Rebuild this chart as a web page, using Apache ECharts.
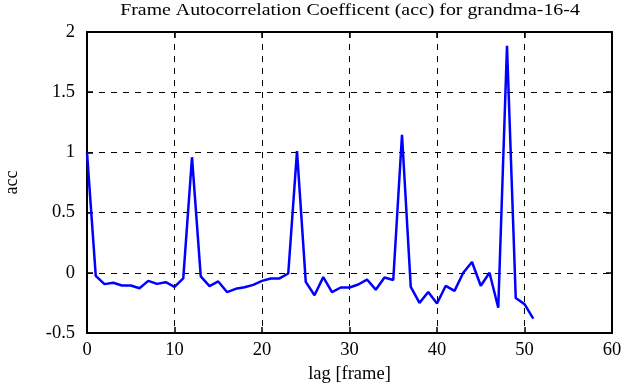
<!DOCTYPE html>
<html>
<head>
<meta charset="utf-8">
<script src="https://cdn.jsdelivr.net/npm/echarts@6/dist/echarts.min.js"></script>
<style>html,body{margin:0;padding:0;background:#fff}#c{width:635px;height:387px}</style>
</head>
<body>
<div id="c"></div>
<script>
var lags = [0,1,2,3,4,5,6,7,8,9,10,11,12,13,14,15,16,17,18,19,20,21,22,23,24,25,26,27,28,29,30,31,32,33,34,35,36,37,38,39,40,41,42,43,44,45,46,47,48,49,50,51];
var acc = [1.0,-0.025,-0.094,-0.083,-0.105,-0.105,-0.128,-0.067,-0.092,-0.078,-0.117,-0.047,0.96,-0.03,-0.11,-0.072,-0.16,-0.133,-0.12,-0.10,
           -0.067,-0.047,-0.047,-0.006,1.01,-0.075,-0.186,-0.036,-0.16,-0.122,-0.122,-0.097,-0.056,-0.14,-0.039,-0.06,1.147,-0.117,-0.25,-0.16,
           -0.255,-0.108,-0.15,0.0,0.09,-0.108,0.0,-0.29,1.886,-0.21,-0.26,-0.38];
var titleText = 'Frame Autocorrelation Coefficent (acc) for grandma-16-4';
var xName = 'lag [frame]';
var yName = 'acc';

var font = 'Liberation Serif';
var chart = echarts.init(document.getElementById('c'));
var axisLine = {show: true, onZero: false, lineStyle: {color: '#000', width: 2}};
var tick = {show: true, inside: true, length: 6, lineStyle: {color: '#000', width: 1.5}};
var split = {show: true, lineStyle: {color: '#000', type: [6, 6], width: 1}};
chart.setOption({
  backgroundColor: '#fff',
  animation: false,
  graphic: [{type: 'text', x: 350, y: 11, scaleX: 1.24, scaleY: 1,
    style: {text: titleText, font: '16px "Liberation Serif"', fill: '#000',
      textAlign: 'center', textVerticalAlign: 'middle'}}],
  grid: {left: 87, right: 23, top: 32, bottom: 54, containLabel: false, outerBoundsMode: 'none'},
  xAxis: [{type: 'value', min: 0, max: 60, interval: 10, position: 'bottom',
      name: xName, nameLocation: 'middle', nameGap: 30,
      nameTextStyle: {fontFamily: font, fontSize: 18.5, color: '#000'},
      axisLine: axisLine, axisTick: tick, splitLine: split,
      axisLabel: {fontFamily: font, fontSize: 18.5, color: '#000', margin: 8}},
    {type: 'value', min: 0, max: 60, interval: 10, position: 'top',
      axisLine: axisLine, axisTick: tick, splitLine: {show: false}, axisLabel: {show: false}}],
  yAxis: [{type: 'value', min: -0.5, max: 2, interval: 0.5, position: 'left',
      name: yName, nameLocation: 'middle', nameGap: 66, nameRotate: 90,
      nameTextStyle: {fontFamily: font, fontSize: 18, color: '#000'},
      axisLine: axisLine, axisTick: tick, splitLine: split,
      axisLabel: {fontFamily: font, fontSize: 18.5, color: '#000', margin: 12}},
    {type: 'value', min: -0.5, max: 2, interval: 0.5, position: 'right',
      axisLine: axisLine, axisTick: tick, splitLine: {show: false}, axisLabel: {show: false}}],
  series: [{type: 'line', data: lags.map(function (l, i) { return [l, acc[i]]; }),
    showSymbol: false, symbol: 'none', lineStyle: {color: '#0000ff', width: 2.5}, z: 5}]
});
</script>
</body>
</html>
